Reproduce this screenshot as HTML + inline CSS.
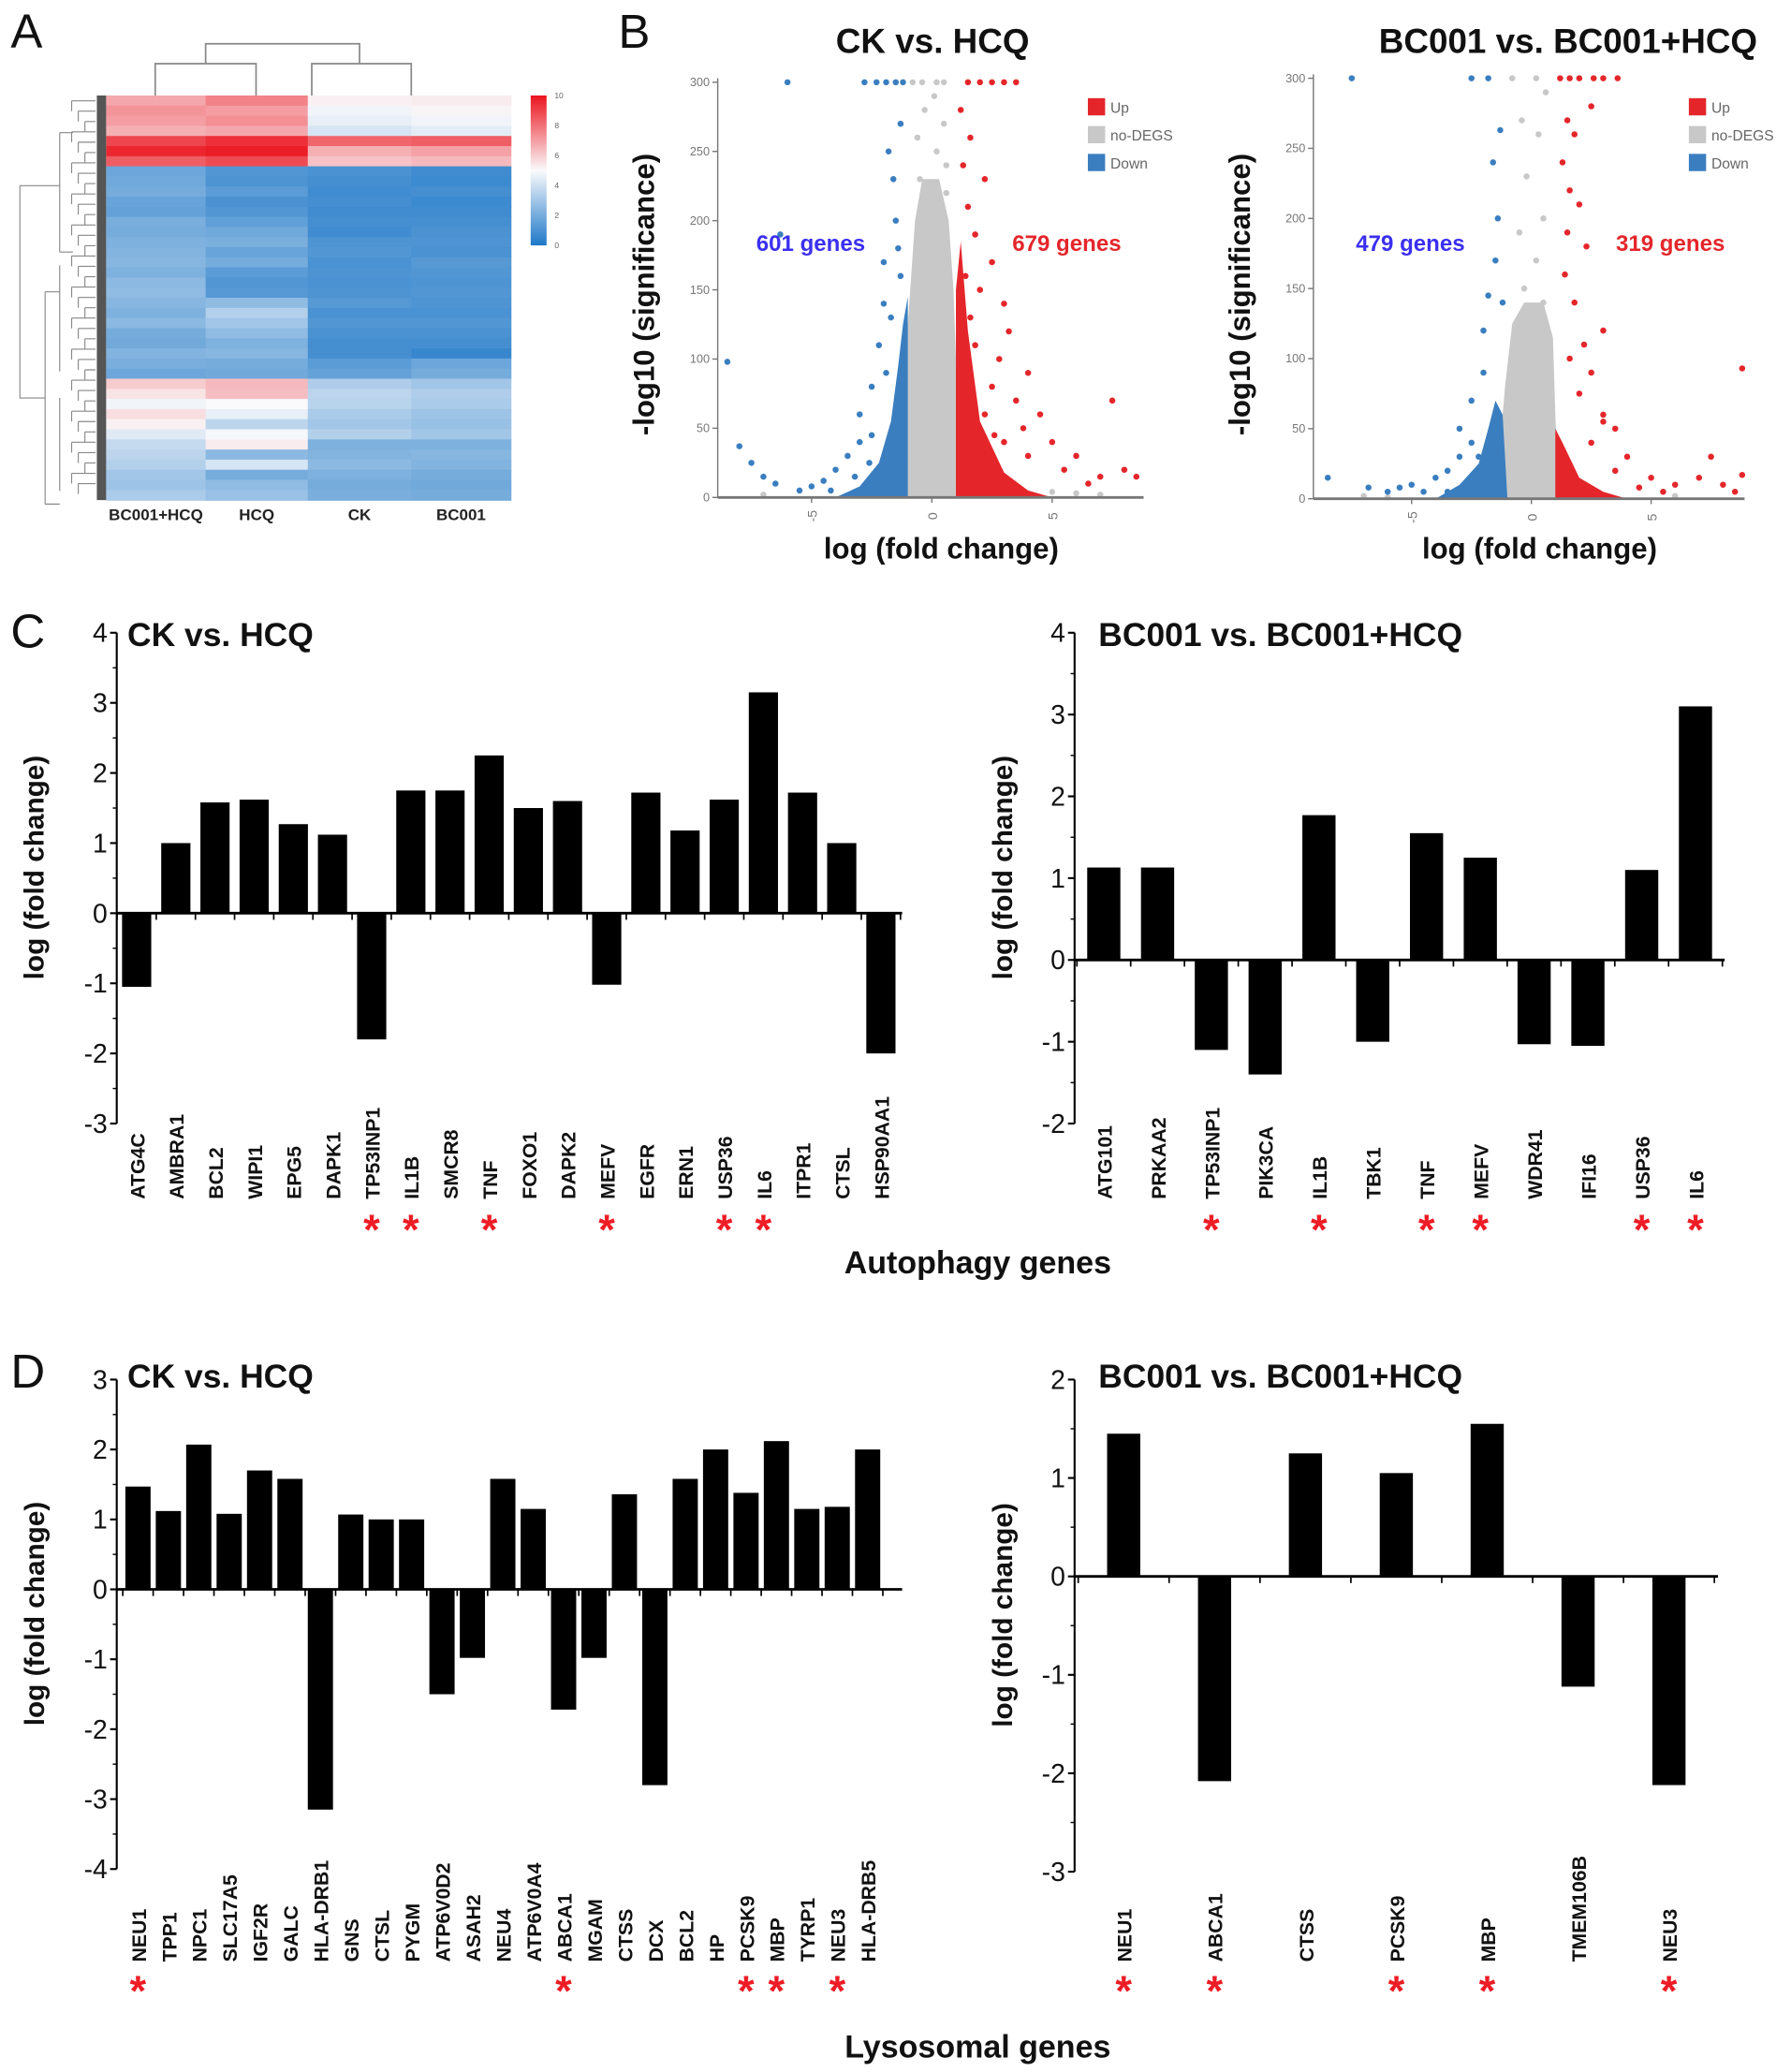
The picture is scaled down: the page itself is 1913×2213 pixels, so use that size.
<!DOCTYPE html>
<html><head><meta charset="utf-8"><style>
html,body{margin:0;padding:0;background:#fff;}
svg{display:block;font-family:"Liberation Sans",Arial,sans-serif;}
</style></head><body>
<svg id="fig" width="1913" height="2213" viewBox="0 0 1350 1562" preserveAspectRatio="none" xmlns="http://www.w3.org/2000/svg">
<rect width="1350" height="1562" fill="#fff"/>
</svg>
<script>
// ---- Heatmap data (rows x columns, value 0..10) ----
const hmColumns = ["BC001+HCQ","HCQ","CK","BC001"];
const hmCol1 = [6.8,7.2,7.0,6.6,8.9,9.6,8.4,1.8,1.9,2.0,1.7,1.6,2.1,2.0,2.2,2.3,2.4,2.2,2.5,2.6,2.4,2.2,2.5,2.0,1.9,2.3,2.1,1.8,6.0,5.5,4.8,5.6,5.2,4.4,3.8,3.6,3.4,3.0,2.9,3.2];
const hmCol2 = [7.6,7.0,7.3,6.8,9.4,9.8,8.8,1.2,1.1,1.4,1.0,1.2,1.5,1.9,2.1,1.7,2.0,1.4,1.2,1.3,2.6,3.4,3.0,2.6,2.2,2.4,2.0,1.9,6.4,6.3,5.0,4.6,3.6,4.9,5.3,2.5,4.2,2.0,2.6,2.8];
const hmCol3 = [5.2,4.8,4.6,4.2,8.2,6.6,6.2,1.0,0.9,0.8,0.9,0.8,0.9,0.8,1.1,1.2,1.0,1.1,1.0,1.1,1.3,1.0,1.2,1.0,0.9,0.9,1.4,1.6,3.3,3.6,3.5,3.2,3.0,3.4,2.2,2.3,2.5,2.2,2.0,2.1];
const hmCol4 = [5.3,5.1,4.8,4.5,8.4,6.9,6.4,0.8,0.7,0.9,0.7,0.8,0.9,1.0,1.1,1.0,1.3,1.2,1.1,1.2,1.1,1.0,1.2,1.0,0.9,0.6,1.8,2.0,3.0,3.3,3.2,2.9,2.8,3.0,2.2,2.4,2.3,2.0,1.9,2.0];
const hmScaleTicks = [0,2,4,6,8,10];

// ---- Volcano CK vs HCQ ----
const ckDown = [[-8.5,98],[-8,37],[-7.5,25],[-6,300],[-7,15],[-6.5,10],[-5.5,5],[-5,8],[-4.5,12],[-4,20],[-3.5,30],[-3,40],[-3,60],[-2.5,45],[-2.5,80],[-2.2,110],[-2,140],[-2,170],[-1.8,250],[-1.6,230],[-1.5,200],[-1.4,180],[-1.3,270],[-2.8,300],[-2.3,300],[-1.9,300],[-1.5,300],[-1.2,300],[-3.2,15],[-4.2,5],[-2.6,25],[-1.7,130],[-1.9,90],[-1.3,160],[-6.3,190]];
const ckUp = [[1.5,300],[2,300],[2.5,300],[3,300],[3.5,300],[1.2,280],[1.6,260],[1.3,240],[2.2,230],[1.5,210],[1.8,190],[2.5,170],[1.4,160],[2,150],[3,140],[1.6,130],[3.2,120],[2.8,100],[4,90],[2.5,80],[3.5,70],[7.5,70],[4.5,60],[2.2,60],[5,40],[6,30],[7,15],[8,20],[8.5,15],[5.5,20],[4,30],[3,40],[6.5,10],[3.8,50],[1.8,110],[2.6,45]];
const ckNo = [[-0.8,300],[0.2,300],[-0.3,280],[0.5,270],[0.2,250],[-0.5,230],[0.6,220],[-0.2,200],[0.4,180],[-0.6,170],[0.7,160],[0,150],[-0.4,130],[0.3,120],[6,3],[7,2],[-7,2],[5,4],[-0.4,300],[0.5,300],[0.1,290],[-0.6,260],[0.6,240]];
const ckGreyEnv = [[-1.6,0],[-1.3,50],[-1.1,100],[-0.9,150],[-0.7,200],[-0.4,230],[0.3,230],[0.7,200],[0.9,150],[1,100],[1.1,50],[1.5,0]];
const ckBlueEnv = [[-4,0],[-3,8],[-2.2,25],[-1.7,55],[-1.4,95],[-1.2,125],[-1,145],[-1,0]];
const ckRedEnv = [[1,0],[1,150],[1.2,185],[1.5,120],[2,55],[3,18],[4,5],[5,0]];

// ---- Volcano BC001 vs BC001+HCQ ----
const bcDown = [[-7.5,300],[-8.5,15],[-6.8,8],[-6,5],[-5.5,8],[-5,10],[-4.5,5],[-4,15],[-3.5,20],[-3,30],[-3,50],[-2.5,40],[-2.5,70],[-2,90],[-2,120],[-1.8,145],[-1.5,170],[-2.5,300],[-1.8,300],[-1.3,263],[-1.6,240],[-1.4,200],[-1.2,140],[-3.5,5],[-2.2,30]];
const bcUp = [[1.2,300],[1.6,300],[2,300],[2.6,300],[3,300],[3.6,300],[2.5,280],[1.5,270],[1.8,260],[1.3,240],[1.6,220],[2,210],[1.5,190],[2.3,180],[1.4,160],[1.8,140],[2.2,110],[3,120],[1.6,100],[2.5,90],[8.8,93],[2,75],[3,55],[3.5,50],[3,60],[2.5,40],[4,30],[5,15],[6,10],[7,15],[7.5,30],[8,10],[8.5,5],[8.8,17],[4.5,8],[3.5,20],[5.5,5]];
const bcNo = [[-0.8,300],[0.2,300],[-0.4,270],[0.3,260],[0.6,290],[-0.2,230],[0.5,200],[-0.5,190],[0.2,170],[-0.3,150],[0.5,140],[-6,1],[-7,2],[6,2]];
const bcGreyEnv = [[-1.6,0],[-1.3,40],[-1.1,80],[-0.8,125],[-0.3,140],[0.5,140],[0.9,115],[1,60],[1.1,20],[1.5,0]];
const bcBlueEnv = [[-4,0],[-3,10],[-2.2,25],[-1.8,50],[-1.5,70],[-1.2,60],[-1,0]];
const bcRedEnv = [[1,0],[1,50],[1.3,40],[2,15],[3,5],[4,0]];
const volcanoXTicks = [-5,0,5];
const volcanoYTicks = [0,50,100,150,200,250,300];

// ---- Bar charts ----
const autoCkGenes = ["ATG4C","AMBRA1","BCL2","WIPI1","EPG5","DAPK1","TP53INP1","IL1B","SMCR8","TNF","FOXO1","DAPK2","MEFV","EGFR","ERN1","USP36","IL6","ITPR1","CTSL","HSP90AA1"];
const autoCkValues = [-1.05,1.0,1.58,1.62,1.27,1.12,-1.8,1.75,1.75,2.25,1.5,1.6,-1.02,1.72,1.18,1.62,3.15,1.72,1.0,-2.0];
const autoCkStars = [0,0,0,0,0,0,1,1,0,1,0,0,1,0,0,1,1,0,0,0];
const autoCkTicks = [-3,-2,-1,0,1,2,3,4];

const autoBcGenes = ["ATG101","PRKAA2","TP53INP1","PIK3CA","IL1B","TBK1","TNF","MEFV","WDR41","IFI16","USP36","IL6"];
const autoBcValues = [1.13,1.13,-1.1,-1.4,1.77,-1.0,1.55,1.25,-1.03,-1.05,1.1,3.1];
const autoBcStars = [0,0,1,0,1,0,1,1,0,0,1,1];
const autoBcTicks = [-2,-1,0,1,2,3,4];

const lysoCkGenes = ["NEU1","TPP1","NPC1","SLC17A5","IGF2R","GALC","HLA-DRB1","GNS","CTSL","PYGM","ATP6V0D2","ASAH2","NEU4","ATP6V0A4","ABCA1","MGAM","CTSS","DCX","BCL2","HP","PCSK9","MBP","TYRP1","NEU3","HLA-DRB5"];
const lysoCkValues = [1.47,1.12,2.07,1.08,1.7,1.58,-3.15,1.07,1.0,1.0,-1.5,-0.98,1.58,1.15,-1.72,-0.98,1.36,-2.8,1.58,2.0,1.38,2.12,1.15,1.18,2.0];
const lysoCkStars = [1,0,0,0,0,0,0,0,0,0,0,0,0,0,1,0,0,0,0,0,1,1,0,1,0];
const lysoCkTicks = [-4,-3,-2,-1,0,1,2,3];

const lysoBcGenes = ["NEU1","ABCA1","CTSS","PCSK9","MBP","TMEM106B","NEU3"];
const lysoBcValues = [1.45,-2.08,1.25,1.05,1.55,-1.12,-2.12];
const lysoBcStars = [1,1,0,1,1,0,1];
const lysoBcTicks = [-3,-2,-1,0,1,2];

const NS="http://www.w3.org/2000/svg";
const svg=document.getElementById('fig');
function el(tag,attrs,parent,text){const e=document.createElementNS(NS,tag);for(const k in attrs)e.setAttribute(k,attrs[k]);if(text!==undefined)e.textContent=text;(parent||svg).appendChild(e);return e;}

function panelLabel(t,x,y){
  const e=el('text',{x:x,y:y,'font-size':36,fill:'#111'},svg,t);
  
  
}
panelLabel('A',8,36);panelLabel('B',466,36);panelLabel('C',8,488);panelLabel('D',8,1046);

// ---------- Heatmap ----------
(function(){
  const g=el('g',{});
  
  
  const x0=80,y0=72,w=305,h=305;
  const cols=[hmCol1,hmCol2,hmCol3,hmCol4];
  const cw=[75,77,78,75];
  function color(v){
    const t=Math.max(0,Math.min(10,v));
    let r,gg,b;
    if(t<5){const f=t/5;r=30+(250-30)*f;gg=120+(250-120)*f;b=200+(252-200)*f;}
    else{const f=(t-5)/5;r=250+(235-250)*f;gg=250+(20-250)*f;b=252+(30-252)*f;}
    return `rgb(${r|0},${gg|0},${b|0})`;
  }
  let cx=x0;
  cols.forEach((col,ci)=>{
    const rh=h/col.length;
    col.forEach((v,ri)=>{
      const r=el('rect',{x:cx,y:y0+ri*rh,width:cw[ci]+0.5,height:rh+0.5,fill:color(v)},g);
      
      
    });
    const lt=el('text',{x:cx+cw[ci]/2,y:392,'text-anchor':'middle','font-size':12,'font-weight':'bold',fill:'#222'},g,hmColumns[ci]);
    
    
    cx+=cw[ci];
  });
  el('rect',{x:73,y:y0,width:7,height:h,fill:'#555'},g);
  const d=el('g',{stroke:'#888','stroke-width':0.8,fill:'none'},g);
  
  
  let p='M22 140 H15 V300 H22 ';
  for(let i=0;i<38;i++){const y=y0+4+i*7.8;p+=`M${54+(i%3)*5} ${y} H72 M${54+(i%3)*5} ${y} V${y+7.8} `;}
  p+='M22 140 H45 M22 300 H34 M45 100 V190 M34 220 V380 M45 100 H55 M45 190 H55 M34 220 H45 M34 380 H45 M45 200 V280 M45 300 V370';
  el('path',{d:p},d);
  const cd=el('path',{d:'M117 72 V48 H193 V72 M155 48 V33 H271 V48 M235 72 V48 H310 V72',stroke:'#888','stroke-width':1.2,fill:'none'},g);
  
  
  const defs=el('defs',{},g);
  const lg=el('linearGradient',{id:'cs',x1:0,y1:1,x2:0,y2:0},defs);
  el('stop',{offset:'0',  'stop-color':'rgb(30,120,200)'},lg);
  el('stop',{offset:'0.5','stop-color':'rgb(250,250,252)'},lg);
  el('stop',{offset:'1',  'stop-color':'rgb(235,20,30)'},lg);
  const cb=el('rect',{x:400,y:72,width:12,height:113,fill:'url(#cs)'},g);
  
  
  hmScaleTicks.forEach(t=>{
    const y=185-t/10*113;
    el('text',{x:418,y:y+2,'font-size':6,fill:'#666'},g,String(t));
  });
})();

// ---------- Volcano ----------
function volcano(o){
  const g=el('g',{});
  
  
  const sx=v=>o.x0+(v-o.xmin)*(o.x1-o.x0)/(o.xmax-o.xmin);
  const sy=v=>o.y0-v*(o.y0-o.y300)/300;
  const poly=(arr,fill)=>{el('polygon',{points:arr.map(p=>sx(p[0])+','+sy(p[1])).join(' '),fill:fill},g);};
  poly(o.grey,'#c8c8c8');poly(o.blue,'#3a7ebf');poly(o.red,'#e4262b');
  const dots=(arr,fill,nm)=>arr.forEach(p=>{
    const c=el('circle',{cx:sx(p[0]),cy:sy(p[1]),r:2.3,fill:fill},g);
    
    
  });
  dots(o.no,'#c8c8c8','point-no-deg');dots(o.down,'#3a7ebf','point-down');dots(o.up,'#e4262b','point-up');
  el('line',{x1:o.x0,y1:sy(300)-3,x2:o.x0,y2:o.y0,stroke:'#777','stroke-width':1},g);
  el('line',{x1:o.x0,y1:o.y0,x2:o.x1,y2:o.y0,stroke:'#777','stroke-width':2},g);
  volcanoYTicks.forEach(t=>{
    el('line',{x1:o.x0-4,y1:sy(t),x2:o.x0,y2:sy(t),stroke:'#777'},g);
    el('text',{x:o.x0-6,y:sy(t)+3,'font-size':9,'text-anchor':'end',fill:'#777'},g,String(t));
  });
  volcanoXTicks.forEach(t=>{
    el('line',{x1:sx(t),y1:o.y0,x2:sx(t),y2:o.y0+4,stroke:'#777'},g);
    el('text',{x:sx(t),y:o.y0+18,'font-size':10,'text-anchor':'middle',fill:'#777',transform:`rotate(-90 ${sx(t)} ${o.y0+14})`},g,String(t));
  });
  const tt=el('text',{x:o.tx,y:40,'font-size':26,'font-weight':'bold','text-anchor':'middle',fill:'#111'},g,o.title);
  
  
  const yl=el('text',{x:o.ylx,y:222,'font-size':22,'font-weight':'bold','text-anchor':'middle',fill:'#111',transform:`rotate(-90 ${o.ylx} 222)`},g,'-log10 (significance)');
  
  
  const xl=el('text',{x:(o.x0+o.x1)/2+8,y:421,'font-size':22,'font-weight':'bold','text-anchor':'middle',fill:'#111'},g,'log (fold change)');
  
  
  const nd=el('text',{x:o.dlx,y:189,'font-size':17,'font-weight':'bold',fill:'#3b2ff0'},g,o.downN);
  
  
  const nu=el('text',{x:o.ulx,y:189,'font-size':17,'font-weight':'bold',fill:'#e4262b'},g,o.upN);
  
  
  [['Up','#e4262b'],['no-DEGS','#c8c8c8'],['Down','#3a7ebf']].forEach((l,i)=>{
    const lg=el('g',{},g);
    
    
    el('rect',{x:o.lx,y:74+i*21,width:13,height:13,fill:l[1]},lg);
    el('text',{x:o.lx+17,y:85+i*21,'font-size':11,fill:'#666'},lg,l[0]);
  });
}
volcano({name:'volcano-ck-vs-hcq',x0:541,x1:862,xmin:-8.9,xmax:8.8,y0:375,y300:62,title:'CK vs. HCQ',tx:703,ylx:493,
  up:ckUp,down:ckDown,no:ckNo,grey:ckGreyEnv,blue:ckBlueEnv,red:ckRedEnv,downN:'601 genes',upN:'679 genes',dlx:570,ulx:763,lx:820});
volcano({name:'volcano-bc001-vs-bc001hcq',x0:990,x1:1315,xmin:-9.1,xmax:8.9,y0:376,y300:59,title:'BC001 vs. BC001+HCQ',tx:1182,ylx:942,
  up:bcUp,down:bcDown,no:bcNo,grey:bcGreyEnv,blue:bcBlueEnv,red:bcRedEnv,downN:'479 genes',upN:'319 genes',dlx:1022,ulx:1218,lx:1273});

// ---------- Bar charts ----------
function barChart(o){
  const g=el('g',{});
  
  
  const ticks=o.ticks;const tmin=ticks[0],tmax=ticks[ticks.length-1];
  const sy=v=>o.ytop+(tmax-v)*(o.ybot-o.ytop)/(tmax-tmin);
  const n=o.genes.length;
  const sp=(o.clast-o.cfirst)/(n-1);
  const sx=i=>o.cfirst+i*sp;
  el('line',{x1:o.ax,y1:o.ytop,x2:o.ax,y2:o.ybot,stroke:'#000','stroke-width':1.5},g);
  ticks.forEach((t,i)=>{
    el('line',{x1:o.ax-5,y1:sy(t),x2:o.ax,y2:sy(t),stroke:'#000','stroke-width':1.5},g);
    if(i<ticks.length-1) el('line',{x1:o.ax-3,y1:(sy(t)+sy(ticks[i+1]))/2,x2:o.ax,y2:(sy(t)+sy(ticks[i+1]))/2,stroke:'#000'},g);
    const tl=el('text',{x:o.ax-7,y:sy(t)+7,'font-size':20,'text-anchor':'end',fill:'#111'},g,String(t));
    
    
  });
  o.values.forEach((v,i)=>{
    const y=Math.min(sy(v),sy(0)),h=Math.abs(sy(v)-sy(0));
    const b=el('rect',{x:sx(i)-o.bw/2,y:y,width:o.bw,height:h,fill:'#000'},g);
    
    
    const lx=sx(i)+1;
    const t=el('text',{x:lx,y:o.labelY,'font-size':o.fs,'font-weight':'bold','text-anchor':'start','dominant-baseline':'central',fill:'#111',transform:`rotate(-90 ${lx} ${o.labelY})`},g,o.genes[i]);
    
    
    if(o.stars[i]){
      const s=el('text',{x:sx(i),y:o.starY,'font-size':32,'font-weight':'bold','text-anchor':'middle',fill:'#ee1c25'},g,'*');
      
      
    }
  });
  el('line',{x1:o.ax,y1:sy(0),x2:o.zx,y2:sy(0),stroke:'#000','stroke-width':2},g);
  for(let i=0;i<=n;i++){const x=sx(i)-sp/2;el('line',{x1:x,y1:sy(0),x2:x,y2:sy(0)+5,stroke:'#000','stroke-width':1.2},g);}
  const tt=el('text',{x:o.tx,y:o.ty,'font-size':25,'font-weight':'bold',fill:'#111'},g,o.title);
  
  
  const ylx=o.ylx,yly=(o.ytop+o.ybot)/2-8;
  const yl=el('text',{x:ylx,y:yly,'font-size':21,'font-weight':'bold','text-anchor':'middle',fill:'#111',transform:`rotate(-90 ${ylx} ${yly})`},g,'log (fold change)');
  
  
}
barChart({name:'autophagy-ck-vs-hcq',genes:autoCkGenes,values:autoCkValues,stars:autoCkStars,ticks:autoCkTicks,
  ax:88,ytop:477,ybot:847,cfirst:103,clast:664,bw:22,zx:680,labelY:904,starY:938,fs:15,title:'CK vs. HCQ',tx:96,ty:487,ylx:33});
barChart({name:'autophagy-bc001-vs-bc001hcq',genes:autoBcGenes,values:autoBcValues,stars:autoBcStars,ticks:autoBcTicks,
  ax:810,ytop:477,ybot:847,cfirst:832,clast:1278,bw:25,zx:1300,labelY:904,starY:938,fs:15,title:'BC001 vs. BC001+HCQ',tx:828,ty:487,ylx:763});
barChart({name:'lysosomal-ck-vs-hcq',genes:lysoCkGenes,values:lysoCkValues,stars:lysoCkStars,ticks:lysoCkTicks,
  ax:88,ytop:1040,ybot:1409,cfirst:104,clast:654,bw:19,zx:680,labelY:1479,starY:1512,fs:15,title:'CK vs. HCQ',tx:96,ty:1046,ylx:33});
barChart({name:'lysosomal-bc001-vs-bc001hcq',genes:lysoBcGenes,values:lysoBcValues,stars:lysoBcStars,ticks:lysoBcTicks,
  ax:810,ytop:1040,ybot:1411,cfirst:847,clast:1258,bw:25,zx:1295,labelY:1479,starY:1512,fs:15,title:'BC001 vs. BC001+HCQ',tx:828,ty:1046,ylx:763});

const a1=el('text',{x:737,y:960,'font-size':24,'font-weight':'bold','text-anchor':'middle',fill:'#111'},svg,'Autophagy genes');


const a2=el('text',{x:737,y:1551,'font-size':24,'font-weight':'bold','text-anchor':'middle',fill:'#111'},svg,'Lysosomal genes');


</script>
</body></html>
